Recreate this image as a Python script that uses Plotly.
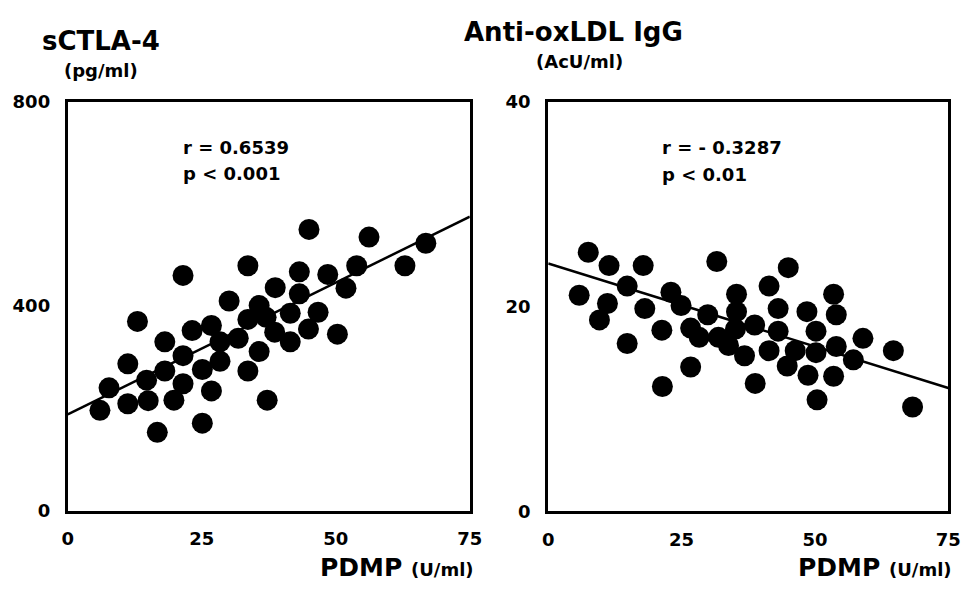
import plotly.graph_objects as go

W, H = 976, 589

# ---- data: left panel (PDMP vs sCTLA-4) ----
pdmp_left = [21.5, 33.6, 13.0, 38.7, 30.1, 35.7, 33.6, 37.0, 23.2, 26.8, 38.6, 18.1, 28.4, 31.8,
             21.5, 35.7, 11.2, 28.4, 25.1, 18.1, 33.6, 14.7, 7.7, 21.5, 26.8, 11.2, 15.0, 19.8,
             6.0, 37.2, 25.1, 16.7, 45.0, 56.2, 66.8, 43.2, 48.5, 53.9, 62.9, 43.2, 51.9, 41.5,
             46.7, 44.9, 41.5, 50.3]
sctla4 = [460, 479, 370, 436, 410, 401, 374, 378, 352, 362, 349, 330, 330, 337,
          303, 311, 287, 292, 276, 273, 273, 255, 240, 248, 234, 209, 215, 216,
          196, 216, 171, 153, 550, 535, 523, 467, 462, 479, 479, 424, 435, 386,
          388, 355, 330, 345]
left_intercept, left_slope = 188, 5.16

# ---- data: right panel (PDMP vs Anti-oxLDL IgG) ----
pdmp_right = [7.5, 11.4, 17.8, 31.6, 5.8, 14.8, 11.1, 9.6, 18.1, 23.0, 24.9, 14.8, 21.3, 26.7,
              28.3, 29.9, 31.9, 33.8, 35.3, 35.3, 35.1, 36.8, 26.7, 21.4, 45.0, 41.4, 53.5, 43.1,
              48.5, 54.0, 38.7, 43.1, 50.2, 41.4, 46.3, 50.2, 54.0, 59.0, 64.7, 57.2, 44.8, 48.7,
              53.5, 38.8, 50.4, 68.3]
oxldl = [25.3, 24.0, 24.0, 24.4, 21.1, 22.0, 20.3, 18.7, 19.8, 21.4, 20.1, 16.4, 17.7, 17.9,
         17.0, 19.2, 17.0, 16.2, 21.2, 19.5, 17.8, 15.2, 14.1, 12.2, 23.8, 22.0, 21.2, 19.8,
         19.5, 19.2, 18.2, 17.6, 17.6, 15.7, 15.7, 15.5, 16.1, 16.9, 15.7, 14.8, 14.2, 13.3,
         13.2, 12.5, 10.9, 10.2]
right_intercept, right_slope = 24.2, -0.162

x_range = [0, 75]
x_ticks = [0, 25, 50, 75]
left_y_ticks = [0, 400, 800]
right_y_ticks = [0, 20, 40]

FONT = "DejaVu Sans, Verdana, sans-serif"

fig = go.Figure()

marker = dict(size=21, color="black", line=dict(width=0))
fig.add_trace(go.Scatter(x=pdmp_left, y=sctla4, mode="markers", marker=marker,
                         xaxis="x", yaxis="y", showlegend=False))
fig.add_trace(go.Scatter(x=x_range, y=[left_intercept + left_slope * v for v in x_range],
                         mode="lines", line=dict(color="black", width=2.5),
                         xaxis="x", yaxis="y", showlegend=False))
fig.add_trace(go.Scatter(x=pdmp_right, y=oxldl, mode="markers", marker=marker,
                         xaxis="x2", yaxis="y2", showlegend=False))
fig.add_trace(go.Scatter(x=x_range, y=[right_intercept + right_slope * v for v in x_range],
                         mode="lines", line=dict(color="black", width=2.5),
                         xaxis="x2", yaxis="y2", showlegend=False))

def px_x(p):
    return p / W

def px_y(p):
    return 1 - p / H

tickfont = dict(family=FONT, size=18, color="black", weight="bold")
ax_common = dict(showline=True, linewidth=3, linecolor="black", mirror=True,
                 showgrid=False, zeroline=False, ticks="", tickfont=tickfont)

fig.update_layout(
    width=W, height=H,
    margin=dict(l=0, r=0, t=0, b=0),
    paper_bgcolor="white", plot_bgcolor="white",
    xaxis=dict(domain=[px_x(63), px_x(473)], range=x_range, tickvals=x_ticks,
               anchor="y", ticklabelstandoff=10, **ax_common),
    yaxis=dict(domain=[px_y(518), px_y(94)], range=[0, 800], tickvals=left_y_ticks,
               anchor="x", ticklabelstandoff=11, **ax_common),
    xaxis2=dict(domain=[px_x(553), px_x(961)], range=x_range, tickvals=x_ticks,
                anchor="y2", ticklabelstandoff=10, **ax_common),
    yaxis2=dict(domain=[px_y(519), px_y(94)], range=[0, 40], tickvals=right_y_ticks,
                anchor="x2", ticklabelstandoff=11, **ax_common),
)

def ann(text, x, y, size, xanchor="left"):
    fig.add_annotation(text=text, x=px_x(x), y=px_y(y), xref="paper", yref="paper",
                       xanchor=xanchor, yanchor="middle", showarrow=False, borderpad=0,
                       font=dict(family=FONT, size=size, color="black", weight="bold"))

ann("sCTLA-4", 36, 31, 26)
ann("(pg/ml)", 58, 62, 18)
ann("Anti-oxLDL IgG", 466, 22, 26)
ann("(AcU/ml)", 539, 52, 18)
ann("r = 0.6539", 179, 142, 18)
ann("p < 0.001", 179, 168, 18)
ann("r = - 0.3287", 668, 142, 18)
ann("p < 0.01", 668, 170, 18)
ann("PDMP <span style='font-size:18px'>(U/ml)</span>", 319, 577, 25)
ann("PDMP <span style='font-size:18px'>(U/ml)</span>", 807, 577, 25)

fig.write_html(
    "out.html",
    config={"displayModeBar": False},
    post_script=("document.body.style.margin='0px';"
                 "document.body.style.overflow='hidden';"
                 "document.documentElement.style.overflow='hidden';"),
)
